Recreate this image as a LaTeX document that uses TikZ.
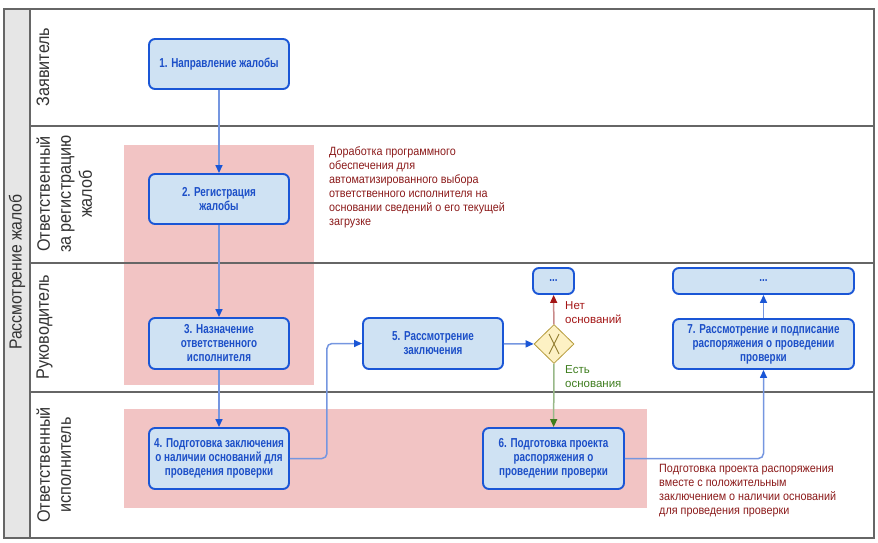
\documentclass[tikz,border=0pt]{standalone}
\usepackage{fontspec}
\setmainfont{Liberation Sans}[FakeStretch=0.76]
\newfontfamily\widefont{Liberation Sans}
\newfontfamily\lanefont{Liberation Sans}[FakeStretch=0.9]
\usetikzlibrary{arrows.meta,shapes.geometric,positioning}

\definecolor{boxfill}{HTML}{CFE2F3}
\definecolor{boxline}{HTML}{1A56D6}
\definecolor{boxtext}{HTML}{1C4FC8}
\definecolor{flowline}{HTML}{7596E0}
\definecolor{pinkzone}{HTML}{F2C4C4}
\definecolor{lanegray}{HTML}{666666}
\definecolor{headgray}{HTML}{E6E6E6}
\definecolor{notered}{HTML}{8B1A1A}
\definecolor{nored}{HTML}{A31515}
\definecolor{noline}{HTML}{C98A8A}
\definecolor{yesgreen}{HTML}{3E7D1E}
\definecolor{yesline}{HTML}{98B888}
\definecolor{gwfill}{HTML}{FDF1C4}
\definecolor{gwline}{HTML}{B59B3C}

\tikzset{
	task/.style={draw=boxline,fill=boxfill,line width=1.9pt,rounded corners=6pt,text=boxtext,
		font=\bfseries\fontsize{13}{14}\selectfont,align=center,minimum width=140pt,minimum height=50pt,inner sep=2pt},
	flow/.style={draw=flowline,line width=1.5pt,-{Triangle[width=7pt,length=8pt,color=boxline]}},
	lanelabel/.style={rotate=90,anchor=north,font=\lanefont\fontsize{18}{21}\selectfont,align=center,text=black!80},
	note/.style={text=notered,font=\lanefont\fontsize{12}{14}\selectfont,align=left,anchor=north west,inner sep=0pt},
	gwlabel/.style={font=\widefont\fontsize{11.5}{14}\selectfont,align=left,anchor=north west,inner sep=0pt},
}

\begin{document}
\begin{tikzpicture}[x=1pt,y=-1pt]
	\useasboundingbox (0,0) rectangle (878,543);
	% highlighted zones
	\fill[pinkzone] (124,145) rectangle (314,385);
	\fill[pinkzone] (124,409) rectangle (647,508);
	% pool and lanes
	\fill[headgray] (4,9) rectangle (30,538);
	\draw[lanegray,line width=2pt] (4,9) rectangle (874,538);
	\draw[lanegray,line width=2pt] (30,9) -- (30,538);
	\foreach \y in {126,263,392}
		\draw[lanegray,line width=2pt] (30,\y) -- (874,\y);
	\node (pool) [rotate=90,font=\lanefont\fontsize{17.5}{20}\selectfont,text=black!80] at (17,272) {Рассмотрение жалоб};
	\node (lane1) [lanelabel] at (33,67) {Заявитель};
	\node (lane2) [lanelabel] at (33,194) {Ответственный\\за регистрацию\\жалоб};
	\node (lane3) [lanelabel] at (33,327) {Руководитель};
	\node (lane4) [lanelabel] at (33,465) {Ответственный\\исполнитель};
	% tasks
	\node (b1) [task] at (219,64) {1. Направление жалобы};
	\node (b2) [task] at (219,199) {2. Регистрация\\жалобы};
	\node (b3) [task,minimum height=51pt] at (219,343.5) {3. Назначение\\ответственного\\исполнителя};
	\node (b4) [task,minimum height=61pt] at (219,458.5) {4. Подготовка заключения\\о наличии оснований для\\проведения проверки};
	\node (b5) [task,minimum height=51pt] at (433,343.5) {5. Рассмотрение\\заключения};
	\node (gw) [diamond,draw=gwline,fill=gwfill,line width=0.8pt,minimum width=40pt,minimum height=39pt,inner sep=0pt,
		path picture={\draw[gwline!80!black,line width=0.9pt]
			([xshift=-5pt,yshift=-10pt]path picture bounding box.center) -- ([xshift=5pt,yshift=10pt]path picture bounding box.center)
			([xshift=5pt,yshift=-10pt]path picture bounding box.center) -- ([xshift=-5pt,yshift=10pt]path picture bounding box.center);}]
		at (554,344) {};
	\node (d1) [task,minimum width=41pt,minimum height=26pt] at (553.5,281) {...};
	\node (d2) [task,minimum width=181pt,minimum height=26pt] at (763.5,281) {...};
	\node (b7) [task,minimum width=181pt] at (763.5,344) {7. Рассмотрение и подписание\\распоряжения о проведении\\проверки};
	\node (b6) [task,minimum width=141pt,minimum height=61pt] at (553.5,458.5) {6. Подготовка проекта\\распоряжения о\\проведении проверки};
	% notes
	\node (n1) [note] at (329,146) {Доработка программного\\обеспечения для\\автоматизированного выбора\\ответственного исполнителя на\\основании сведений о его текущей\\загрузке};
	\node (n2) [note] at (659,464) {Подготовка проекта распоряжения\\вместе с положительным\\заключением о наличии оснований\\для проведения проверки};
	\node (no) [gwlabel,text=nored] at (565,301) {Нет\\оснований};
	\node (yes) [gwlabel,text=yesgreen] at (565,365) {Есть\\основания};
	% flows
	\draw[flow] (b1) -- (b2);
	\draw[flow] (b2) -- (b3);
	\draw[flow] (b3) -- (b4);
	\draw[flow,rounded corners=5pt] (b4.east) -- ++(37,0) |- (b5.west);
	\draw[flow] (b5) -- (gw);
	\draw[flow,draw=noline,-{Triangle[width=7pt,length=8pt,color=nored]}] (gw) -- (d1);
	\draw[flow,draw=yesline,-{Triangle[width=7pt,length=8pt,color=yesgreen]}] (gw) -- (b6);
	\draw[flow,rounded corners=5pt] (b6.east) -| (b7.south);
	\draw[flow] (b7) -- (d2);
\end{tikzpicture}
\end{document}
